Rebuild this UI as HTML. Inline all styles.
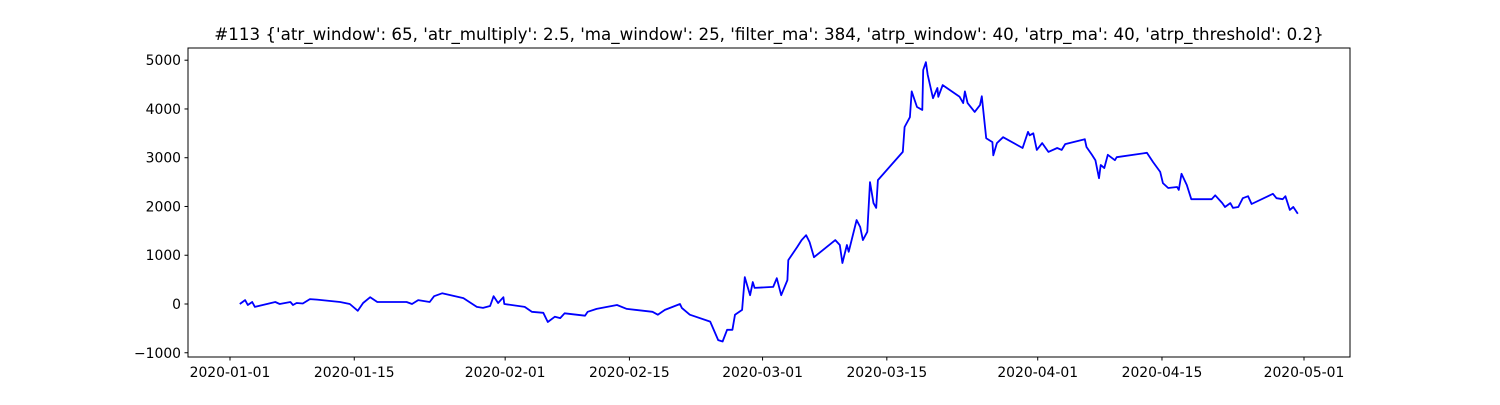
<!DOCTYPE html>
<html><head><meta charset="utf-8"><style>
body{margin:0;background:#fff}
svg text{font-family:"DejaVu Sans","Liberation Sans",sans-serif;fill:#000}
</style></head><body>
<svg id="chart" width="1500" height="400" xmlns="http://www.w3.org/2000/svg">
<rect width="1500" height="400" fill="#fff"/>
<text x="769" y="40" font-size="16.7" text-anchor="middle">#113 {'atr_window': 65, 'atr_multiply': 2.5, 'ma_window': 25, 'filter_ma': 384, 'atrp_window': 40, 'atrp_ma': 40, 'atrp_threshold': 0.2}</text>
<g id="ticks"></g>
<polyline id="line" fill="none" stroke="#0000ff" stroke-width="1.8" stroke-linejoin="round"/>
<rect x="188" y="48" width="1162" height="309" fill="none" stroke="#000" stroke-width="1"/>
</svg>
<script>
const days=[1.1,1.7,2.0,2.5,2.8,5.1,5.6,6.8,7.1,7.5,8.2,9.0,9.8,12.4,13.5,14.4,15.0,15.8,16.6,19.9,20.5,21.2,22.5,23.0,23.9,26.3,27.8,28.5,29.3,29.7,30.2,30.8,30.9,33.2,34.0,35.3,35.8,36.6,37.2,37.7,40.0,40.3,41.3,43.6,44.7,47.6,48.2,49.0,50.7,50.9,51.8,54.1,55.0,55.5,56.0,56.6,56.9,57.7,58.0,58.6,58.9,59.1,61.2,61.6,62.1,62.8,62.9,63.9,64.4,64.9,65.3,65.8,68.2,68.7,69.0,69.5,69.7,70.6,71.0,71.3,71.8,72.1,72.5,72.8,73.0,75.8,76.0,76.6,76.8,77.4,78.0,78.1,78.4,78.6,79.2,79.7,79.8,80.3,82.2,82.6,82.8,83.1,83.9,84.5,84.7,85.2,85.9,86.0,86.4,87.1,89.3,89.9,90.1,90.5,90.9,91.5,92.2,93.2,93.7,94.1,96.3,96.5,97.1,97.5,97.9,98.1,98.5,98.9,99.7,99.9,103.3,104.0,104.8,105.1,105.7,106.7,106.9,107.2,107.8,108.3,110.6,111.0,111.8,112.1,112.7,113.0,113.6,114.1,114.7,115.1,117.5,117.9,118.6,118.9,119.4,119.8,120.3];
const values=[0,80,-20,40,-60,40,0,40,-20,20,10,100,90,40,0,-140,20,140,40,40,0,80,40,160,220,120,-60,-80,-40,160,20,140,0,-60,-160,-180,-370,-260,-290,-190,-240,-160,-100,-20,-100,-160,-220,-120,0,-80,-220,-360,-740,-770,-530,-530,-220,-120,550,180,450,330,350,530,180,490,900,1170,1310,1410,1270,960,1310,1210,840,1210,1070,1720,1580,1310,1480,2500,2070,1970,2540,3120,3630,3830,4360,4040,3980,4800,4960,4700,4220,4430,4250,4490,4250,4120,4360,4120,3940,4080,4260,3400,3320,3050,3300,3420,3200,3530,3460,3500,3160,3300,3120,3200,3160,3280,3380,3220,3060,2950,2580,2850,2790,3060,2950,3010,3100,2910,2710,2480,2380,2400,2340,2670,2440,2150,2150,2230,2070,1990,2070,1970,1990,2170,2210,2050,2260,2170,2150,2210,1930,1990,1850];
const xTickDays=[0,14,31,45,60,74,91,105,121];
const xTickLabels=["2020-01-01","2020-01-15","2020-02-01","2020-02-15","2020-03-01","2020-03-15","2020-04-01","2020-04-15","2020-05-01"];
const yTicks=[-1000,0,1000,2000,3000,4000,5000];
const xs=d=>230+d*8.876;
const ys=v=>304-v*0.04876;
const NS="http://www.w3.org/2000/svg";
const g=document.getElementById('ticks');
function mk(t,a){const e=document.createElementNS(NS,t);for(const k in a)e.setAttribute(k,a[k]);g.appendChild(e);return e;}
xTickDays.forEach((d,i)=>{
  const l=mk('line',{x1:xs(d),x2:xs(d),y1:357,y2:360.5,stroke:'#000'});
  
  
  const t=mk('text',{x:xs(d),y:377,'font-size':13.9,'text-anchor':'middle'});
  t.textContent=xTickLabels[i];
  
  
});
yTicks.forEach(v=>{
  const l=mk('line',{x1:184.5,x2:188,y1:ys(v),y2:ys(v),stroke:'#000'});
  
  
  const t=mk('text',{x:181,y:ys(v)+5,'font-size':13.9,'text-anchor':'end'});
  t.textContent=(v<0?'\u2212'+Math.abs(v):String(v));
  
  
});
document.getElementById('line').setAttribute('points',days.map((d,i)=>xs(d).toFixed(1)+','+ys(values[i]).toFixed(1)).join(' '));
</script>
</body></html>
